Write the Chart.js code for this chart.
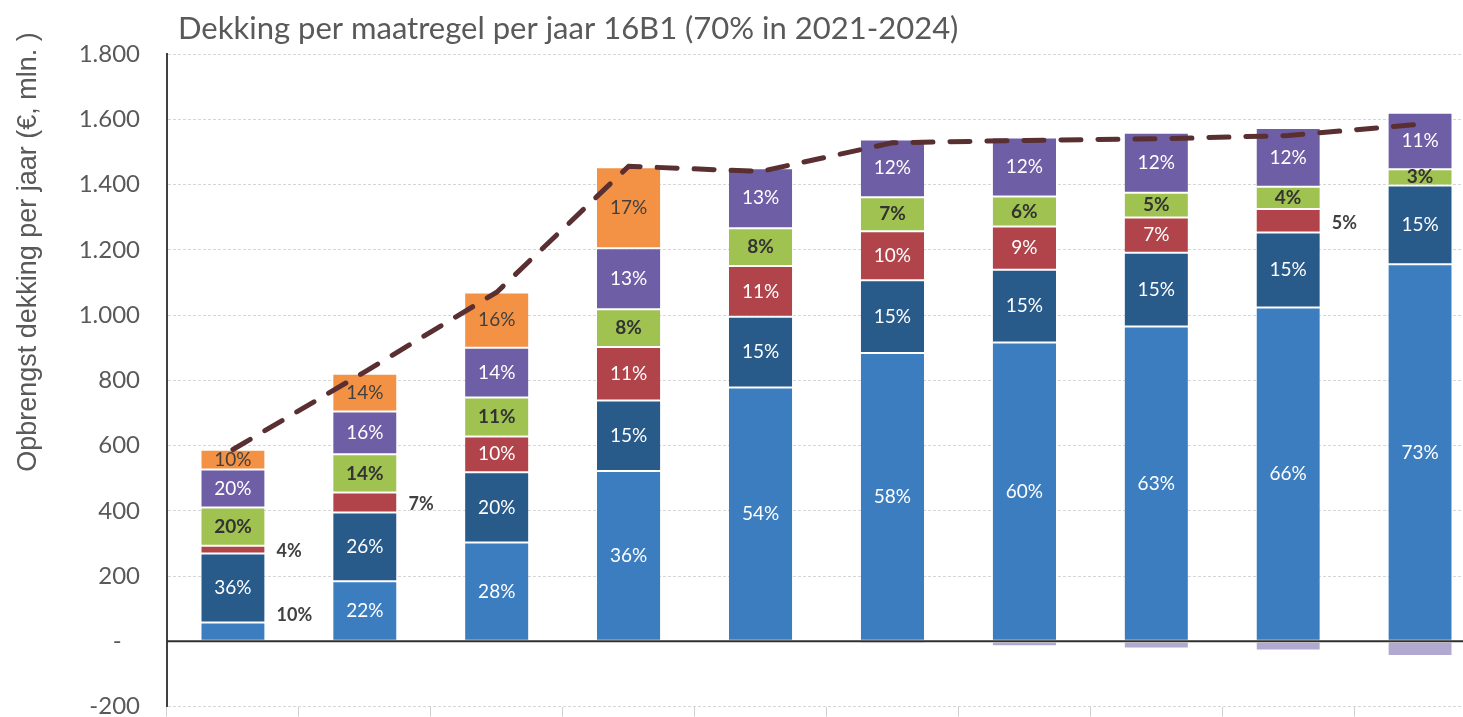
<!DOCTYPE html>
<html lang="nl">
<head>
<meta charset="utf-8">
<title>Dekking per maatregel per jaar</title>
<script src="https://cdn.jsdelivr.net/npm/chart.js@4.4.1/dist/chart.umd.min.js"></script>
<style>
    html, body { margin: 0; padding: 0; background: #fff; overflow: hidden; }
    #wrap { position: relative; width: 1500px; height: 748px; }
</style>
</head>
<body>
<div id="wrap"><canvas id="dekkingChart" width="1500" height="748"></canvas></div>
<script>
// jaren (as labels are not shown)
const jaren = ['2018', '2019', '2020', '2021', '2022', '2023', '2024', '2025', '2026', '2027'];

// opbrengst per maatregel, € mln per jaar (onder naar boven gestapeld)
const maatregel1 = [58, 184, 303, 522, 778, 884, 916, 965, 1023, 1156];
const maatregel2 = [211, 211, 215, 216, 217, 223, 223, 226, 230, 241];
const maatregel3 = [24, 61, 110, 164, 155, 150, 132, 108, 72, 0];
const maatregel4 = [117, 117, 119, 116, 116, 104, 92, 76, 68, 50];
const maatregel5 = [117, 131, 153, 187, 184, 177, 181, 184, 180, 173];
const maatregel6 = [60, 116, 169, 248, 0, 0, 0, 0, 0, 0];
const negatief = [0, 0, 0, 0, 0, -8, -15, -22, -28, -45];

// benodigde dekking (stippellijn)
const doel = [588, 826, 1070, 1456, 1440, 1528, 1535, 1540, 1550, 1585];

const yTicks = [-200, 0, 200, 400, 600, 800, 1000, 1200, 1400, 1600, 1800];

const segmenten = [maatregel1, maatregel2, maatregel3, maatregel4, maatregel5, maatregel6, negatief];
const netto = jaren.map((_, i) => segmenten.reduce((s, arr) => s + arr[i], 0));

function formatNL(v) {
    if (v === 0) return '-   ';
    const s = Math.abs(v).toString().replace(/\B(?=(\d{3})+(?!\d))/g, '.');
    return (v < 0 ? '-' : '') + s;
}

// percentage-labels in (of naast) de segmenten
const segmentLabels = {
    id: 'segmentLabels',
    afterDatasetsDraw(chart) {
        const ctx = chart.ctx;
        ctx.save();
        ctx.textBaseline = 'middle';
        chart.data.datasets.forEach((ds, di) => {
            if (!ds.pctLabel) return;
            const meta = chart.getDatasetMeta(di);
            meta.data.forEach((bar, i) => {
                const v = ds.data[i];
                if (!v) return;
                const p = bar.getProps(['x', 'y', 'base', 'width'], true);
                const tekst = Math.round(v / netto[i] * 100) + '%';
                const cy = (p.y + p.base) / 2;
                if (ds.buitenOnder && v < ds.buitenOnder) {
                    ctx.font = 'bold 18px Lato';
                    ctx.fillStyle = '#404040';
                    ctx.textAlign = 'left';
                    ctx.fillText(tekst, p.x + p.width / 2 + 12, cy + (ds.buitenDy || 0));
                } else {
                    ctx.font = (ds.labelBold ? 'bold ' : '') + '19px Lato';
                    ctx.fillStyle = ds.labelColor;
                    ctx.textAlign = 'center';
                    ctx.fillText(tekst, p.x, cy);
                }
            });
        });
        ctx.restore();
    }
};

// nullijn, titel en as-titel
const extraTekst = {
    id: 'extraTekst',
    afterDatasetsDraw(chart) {
        const ctx = chart.ctx;
        const area = chart.chartArea;
        const y0 = chart.scales.y.getPixelForValue(0);
        ctx.save();
        ctx.strokeStyle = '#303030';
        ctx.lineWidth = 2;
        ctx.beginPath();
        ctx.moveTo(area.left, y0);
        ctx.lineTo(area.right, y0);
        ctx.stroke();
        ctx.restore();
    },
    afterDraw(chart) {
        const ctx = chart.ctx;
        const area = chart.chartArea;
        ctx.save();
        ctx.fillStyle = '#595959';
        ctx.font = '31px Lato';
        ctx.textAlign = 'left';
        ctx.textBaseline = 'middle';
        ctx.fillText('Dekking per maatregel per jaar 16B1 (70% in 2021-2024)', area.left + 11, 29);

        ctx.translate(29, 252);
        ctx.rotate(-Math.PI / 2);
        ctx.textAlign = 'center';
        ctx.font = '27px "Liberation Sans"';
        ctx.fillText('Opbrengst dekking per jaar (€, mln. )', 0, 0);
        ctx.restore();
    }
};

function balk(label, data, kleur, extra) {
    return Object.assign({
        type: 'bar',
        label: label,
        data: data,
        backgroundColor: kleur,
        borderColor: '#ffffff',
        borderWidth: { top: 1, bottom: 1, left: 0, right: 0 },
        borderSkipped: false,
        barPercentage: 0.48,
        categoryPercentage: 1,
        order: 1
    }, extra);
}

const ctx = document.getElementById('dekkingChart').getContext('2d');
new Chart(ctx, {
    data: {
        labels: jaren,
        datasets: [
            {
                type: 'line',
                label: 'Benodigde dekking',
                data: doel,
                borderColor: '#5a2f31',
                borderWidth: 5,
                borderDash: [20, 17],
                borderCapStyle: 'round',
                pointRadius: 0,
                fill: false,
                tension: 0,
                order: 0
            },
            balk('Maatregel 1', maatregel1, '#3c7dc0', { pctLabel: true, labelColor: '#ffffff', buitenOnder: 80, buitenDy: -16 }),
            balk('Maatregel 2', maatregel2, '#285a8a', { pctLabel: true, labelColor: '#ffffff' }),
            balk('Maatregel 3', maatregel3, '#b1444b', { pctLabel: true, labelColor: '#ffffff', buitenOnder: 80, buitenDy: 2 }),
            balk('Maatregel 4', maatregel4, '#a0c250', { pctLabel: true, labelColor: '#333333', labelBold: true }),
            balk('Maatregel 5', maatregel5, '#6e5ea5', { pctLabel: true, labelColor: '#ffffff' }),
            balk('Maatregel 6', maatregel6, '#f39245', { pctLabel: true, labelColor: '#404040' }),
            balk('Negatief', negatief, '#b1a9d0', {})
        ]
    },
    options: {
        responsive: false,
        animation: false,
        devicePixelRatio: 1,
        layout: { padding: { top: 54, right: 14, left: 0, bottom: 0 } },
        plugins: {
            legend: { display: false },
            title: { display: false },
            tooltip: { enabled: false }
        },
        scales: {
            x: {
                stacked: true,
                ticks: { display: false },
                grid: {
                    drawOnChartArea: false,
                    drawTicks: true,
                    tickLength: 10,
                    color: '#cfcfcf',
                    offset: true
                },
                border: { display: false },
                afterFit: scale => { scale.height = 33; }
            },
            y: {
                stacked: true,
                min: -200,
                max: 1800,
                afterBuildTicks: scale => { scale.ticks = yTicks.map(v => ({ value: v })); },
                ticks: {
                    padding: 27,
                    color: '#595959',
                    font: { family: 'Lato', size: 24 },
                    callback: v => formatNL(v)
                },
                grid: {
                    color: c => c.tick && c.tick.value === 0 ? 'rgba(0,0,0,0)' : '#d6d6d6',
                    lineWidth: 1,
                    drawTicks: false
                },
                border: { display: true, color: '#404040', width: 2, dash: [3, 2] },
                afterFit: scale => { scale.width = 167; }
            }
        }
    },
    plugins: [segmentLabels, extraTekst]
});
</script>
</body>
</html>
